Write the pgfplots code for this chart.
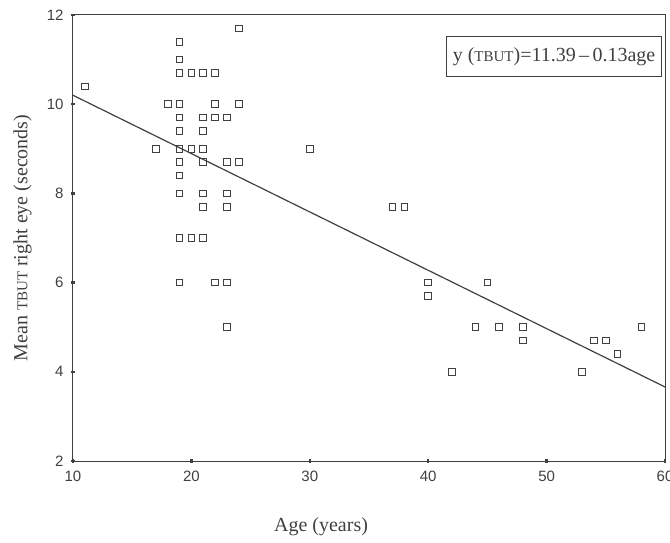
\documentclass[border=0pt]{standalone}
\usepackage{fontspec}
\setmainfont{Liberation Serif}
\newfontfamily\tickfont{Liberation Sans}
\usepackage{pgfplots}
\pgfplotsset{compat=1.18}
\definecolor{ink}{HTML}{404040}
\begin{document}
\begin{tikzpicture}
\begin{axis}[
    name=ax,
    width=592pt, height=446pt,
    scale only axis,
    xmin=10, xmax=60, ymin=2, ymax=12,
    xtick={10,20,30,40,50,60},
    ytick={2,4,6,8,10,12},
    xtick pos=bottom, ytick pos=left,
    tick align=center,
    major tick length=4pt,
    every tick/.style={ink, line width=2.5pt},
    axis line style={ink, line width=1pt},
    /pgf/number format/assume math mode=true,
    ticklabel style={font=\tickfont\fontsize{15}{15}\selectfont, text=ink},
    xticklabel style={yshift=-4pt},
    yticklabel style={xshift=-4pt},
    every axis x label/.style={at={(axis description cs:0.419,-0.148)}, anchor=center},
    every axis y label/.style={at={(axis description cs:-0.085,0.5)}, rotate=90, anchor=center},
    label style={font=\fontsize{20}{20}\selectfont, text=ink},
    xlabel={Age (years)},
    ylabel={Mean {\fontsize{15}{15}\selectfont TBUT} right eye (seconds)},
]
\addplot[only marks, mark=square, mark size=3.3pt, mark options={ink, line width=1pt}]
coordinates {
(11,10.4) (17,9) (18,10)
(19,11.4) (19,11) (19,10.7) (19,10) (19,9.7) (19,9.4) (19,9) (19,8.7) (19,8.4) (19,8) (19,7) (19,6)
(20,10.7) (20,9) (20,7)
(21,10.7) (21,9.7) (21,9.4) (21,9) (21,8.7) (21,8) (21,7.7) (21,7)
(22,10.7) (22,10) (22,9.7) (22,6)
(23,9.7) (23,8.7) (23,8) (23,7.7) (23,6) (23,5)
(24,11.7) (24,10) (24,8.7)
(30,9) (37,7.7) (38,7.7) (40,6) (40,5.7) (42,4)
(44,5) (45,6) (46,5) (48,5) (48,4.7)
(53,4) (54,4.7) (55,4.7) (56,4.4) (58,5)
};
\addplot[ink, line width=1.2pt] coordinates {(10,10.2) (60,3.66)};
\node[draw=ink, line width=1pt, anchor=north east, minimum width=215pt, minimum height=40pt,
      font=\fontsize{20}{20}\selectfont, text=ink]
  at (rel axis cs:0.995,0.953)
  {y ({\fontsize{15}{15}\selectfont TBUT})=11.39\,--\,0.13age};
\end{axis}
\pgfresetboundingbox
\path ([xshift=-73pt,yshift=-81pt]ax.south west) rectangle ([xshift=5pt,yshift=15pt]ax.north east);
\end{tikzpicture}
\end{document}
